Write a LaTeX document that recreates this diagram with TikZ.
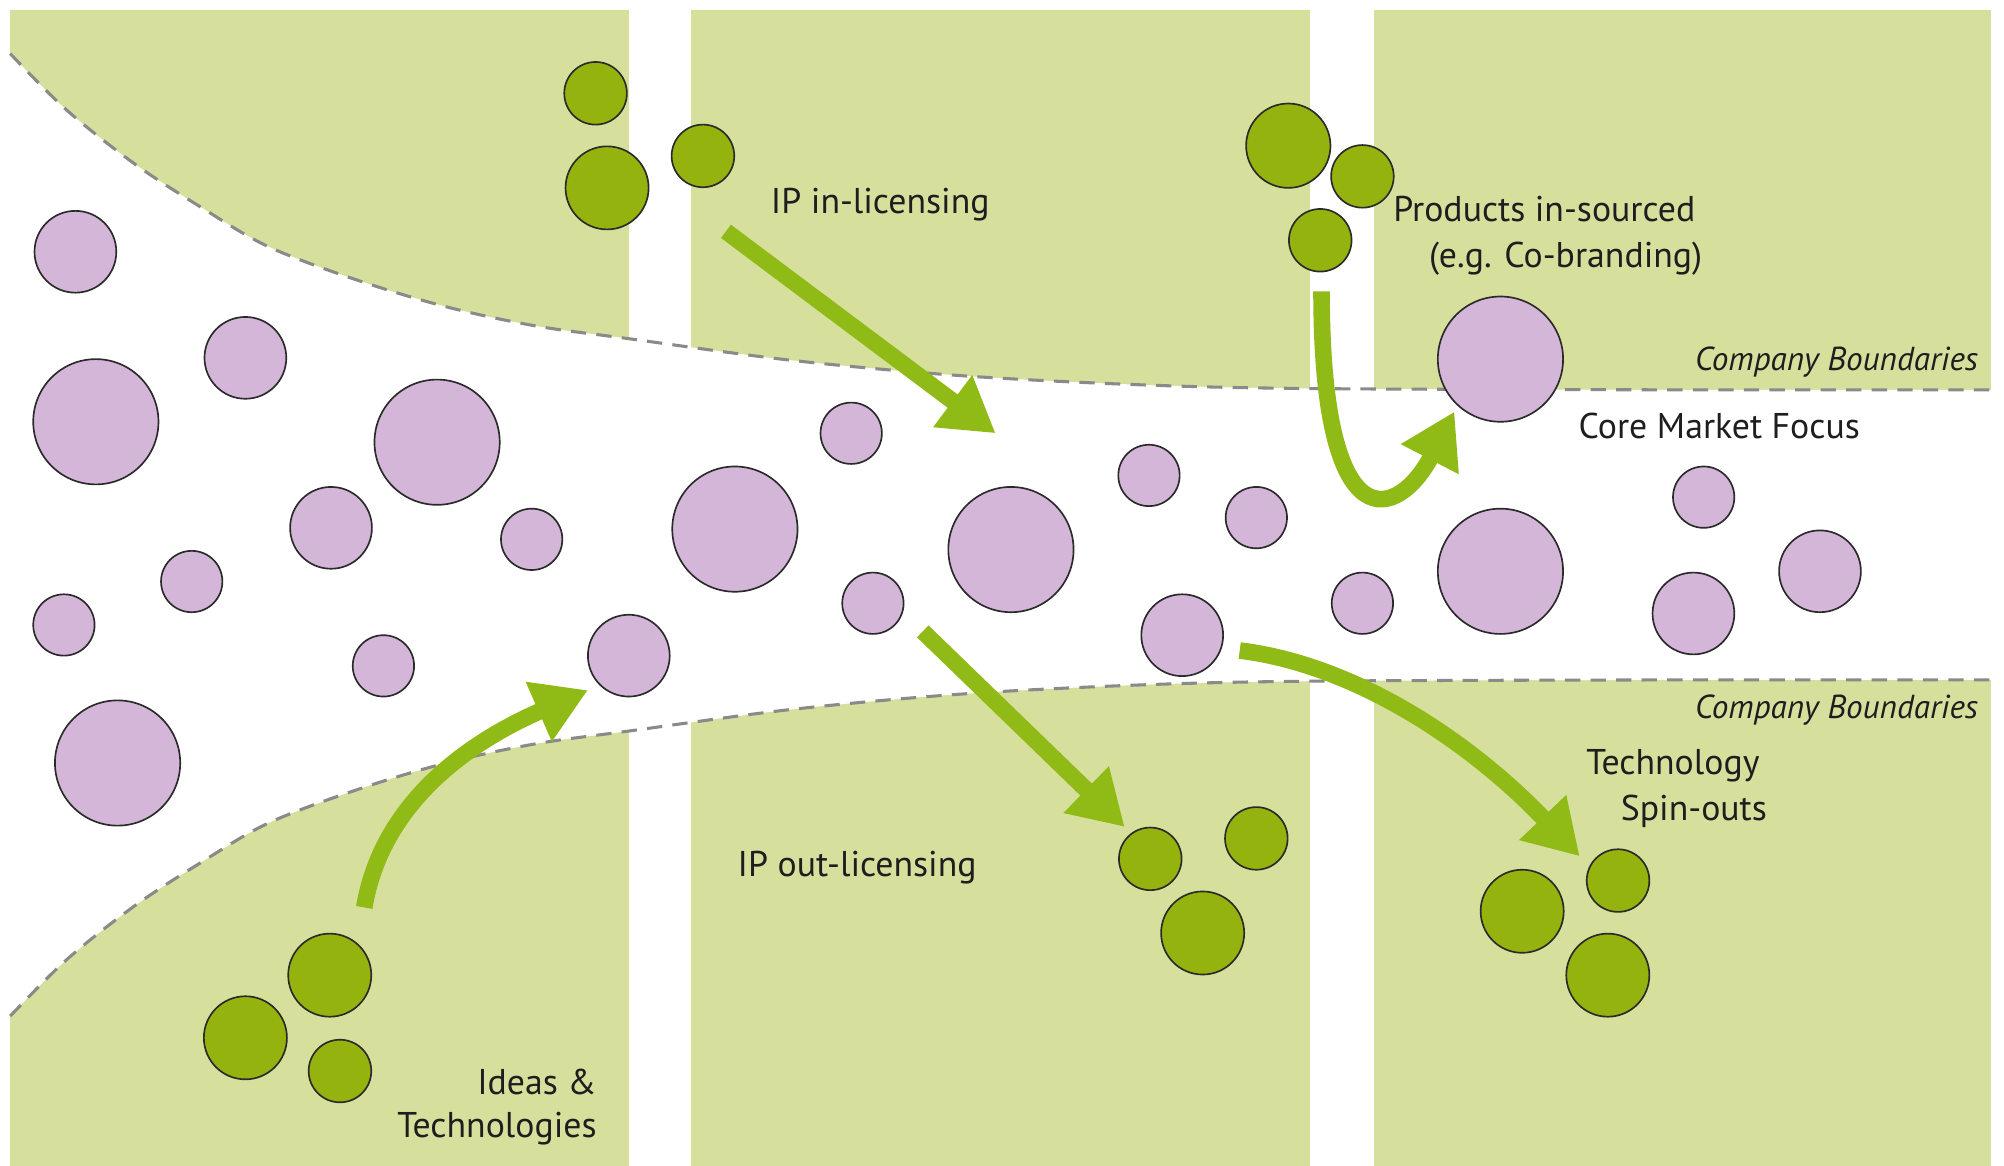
\documentclass[tikz,border=0pt]{standalone}
\usepackage{fontspec}
\setmainfont{PT Sans}
\usetikzlibrary{arrows.meta}
\definecolor{panelc}{HTML}{D6E09C}
\definecolor{greenc}{HTML}{94B30F}
\definecolor{arrowc}{HTML}{90BA16}
\definecolor{pinkc}{HTML}{D4B6D8}
\definecolor{dashc}{HTML}{8A8A8A}
\definecolor{linec}{HTML}{2A2A2A}
\definecolor{textc}{HTML}{1E1E1E}
\begin{document}
\begin{tikzpicture}[x=1pt,y=-1pt,
  pinkdot/.style={circle,draw=linec,fill=pinkc,line width=1.3pt,inner sep=0pt,minimum size=#1},
  greendot/.style={circle,draw=linec,fill=greenc,line width=1.3pt,inner sep=0pt,minimum size=#1},
  flowarrow/.style={draw=arrowc,line width=13pt,-{Triangle[length=42pt,width=48pt]}},
  boundary/.style={draw=dashc,line width=2.4pt,dash pattern=on 12pt off 8pt},
  lbl/.style={font=\fontsize{28}{32}\selectfont,text=textc,inner sep=0pt},
  lblit/.style={font=\fontsize{26}{30}\selectfont\itshape,text=textc,inner sep=0pt}]
\useasboundingbox (0,0) rectangle (1568,912);
% panels
\fill[panelc] (8,8) rectangle (492,912);
\fill[panelc] (541,8) rectangle (1025,912);
\fill[panelc] (1075,8) rectangle (1558,912);
% funnel (white core market area)
\fill[white] plot[smooth,tension=0.55] coordinates {(8,42) (52,86) (105,128) (157,162) (210,193) (279,219) (349,240) (419,255) (492,265) (620,282) (753,294) (890,301) (1025,304) (1300,305) (1558,305)}
  -- plot[smooth,tension=0.55] coordinates {(1558,532) (1300,532) (1025,533) (890,536) (753,543) (620,555) (492,572) (419,582) (349,597) (279,618) (210,644) (157,675) (105,709) (52,751) (8,795)} -- cycle;
\draw[boundary] plot[smooth,tension=0.55] coordinates {(8,42) (52,86) (105,128) (157,162) (210,193) (279,219) (349,240) (419,255) (492,265) (620,282) (753,294) (890,301) (1025,304) (1300,305) (1558,305)};
\draw[boundary] plot[smooth,tension=0.55] coordinates {(8,795) (52,751) (105,709) (157,675) (210,644) (279,618) (349,597) (419,582) (492,572) (620,555) (753,543) (890,536) (1025,533) (1300,532) (1558,532)};
% pink circles (core market)
\node[pinkdot=64] (p1) at (59,197) {};
\node[pinkdot=98] (p2) at (75,330) {};
\node[pinkdot=64] (p3) at (192,280) {};
\node[pinkdot=98] (p4) at (342,346) {};
\node[pinkdot=64] (p5) at (259,413) {};
\node[pinkdot=48] (p6) at (416,422) {};
\node[pinkdot=48] (p7) at (150,455) {};
\node[pinkdot=48] (p8) at (50,489) {};
\node[pinkdot=48] (p9) at (300,521) {};
\node[pinkdot=98] (p10) at (92,597) {};
\node[pinkdot=64] (p11) at (492,513) {};
\node[pinkdot=98] (p12) at (575,414) {};
\node[pinkdot=48] (p13) at (666,339) {};
\node[pinkdot=48] (p14) at (683,472) {};
\node[pinkdot=98] (p15) at (791,430) {};
\node[pinkdot=48] (p16) at (899,372) {};
\node[pinkdot=48] (p17) at (983,405) {};
\node[pinkdot=64] (p18) at (925,497) {};
\node[pinkdot=48] (p19) at (1066,472) {};
\node[pinkdot=98] (p20) at (1174,281) {};
\node[pinkdot=98] (p21) at (1174,447) {};
\node[pinkdot=48] (p22) at (1333,389) {};
\node[pinkdot=64] (p23) at (1325,480) {};
\node[pinkdot=64] (p24) at (1424,447) {};
% green circles
\node[greendot=49] (g1) at (466,73) {};
\node[greendot=65] (g2) at (475,147) {};
\node[greendot=49] (g3) at (550,122) {};
\node[greendot=66] (g4) at (1008,114) {};
\node[greendot=49] (g5) at (1066,138) {};
\node[greendot=49] (g6) at (1033,188) {};
\node[greendot=65] (g7) at (258,763) {};
\node[greendot=65] (g8) at (192,812) {};
\node[greendot=49] (g9) at (266,838) {};
\node[greendot=49] (g10) at (900,672) {};
\node[greendot=49] (g11) at (983,656) {};
\node[greendot=65] (g12) at (941,730) {};
\node[greendot=49] (g13) at (1266,689) {};
\node[greendot=65] (g14) at (1191,713) {};
\node[greendot=65] (g15) at (1258,763) {};
% arrow end points
\coordinate (a1s) at (568,181);
\coordinate (a1e) at (779,339);
\coordinate (a2s) at (722,494);
\coordinate (a2e) at (880,647);
\coordinate (a3s) at (285,710);
\coordinate (a3e) at (460,540);
\coordinate (a4s) at (1034,228);
\coordinate (a4e) at (1138,322);
\coordinate (a5s) at (970,509);
\coordinate (a5e) at (1236,670);
\draw[flowarrow] (a1s) -- (a1e);
\draw[flowarrow] (a2s) -- (a2e);
\draw[flowarrow] (a3s) .. controls (300,620) and (380,575) .. (a3e);
\draw[flowarrow] (a4s) .. controls (1034,430) and (1095,405) .. (a4e);
\draw[flowarrow] (a5s) .. controls (1060,520) and (1150,580) .. (a5e);
% labels
\node[lbl,anchor=base west] (t1) at (603,167) {IP in-licensing};
\node[lbl,anchor=base west] (t2) at (1090,173) {Products in-sourced};
\node[lbl,anchor=base west] (t3) at (1118,209) {(e.g. Co-branding)};
\node[lblit,anchor=base east] (t4) at (1548,290) {Company Boundaries};
\node[lbl,anchor=base west] (t5) at (1235,343) {Core Market Focus};
\node[lblit,anchor=base east] (t6) at (1548,562) {Company Boundaries};
\node[lbl,anchor=base west] (t7) at (1241,606) {Technology};
\node[lbl,anchor=base west] (t8) at (1268,642) {Spin-outs};
\node[lbl,anchor=base west] (t9) at (577,686) {IP out-licensing};
\node[lbl,anchor=base east] (t10) at (467,856) {Ideas \&};
\node[lbl,anchor=base east] (t11) at (467,890) {Technologies};
\end{tikzpicture}
\end{document}
